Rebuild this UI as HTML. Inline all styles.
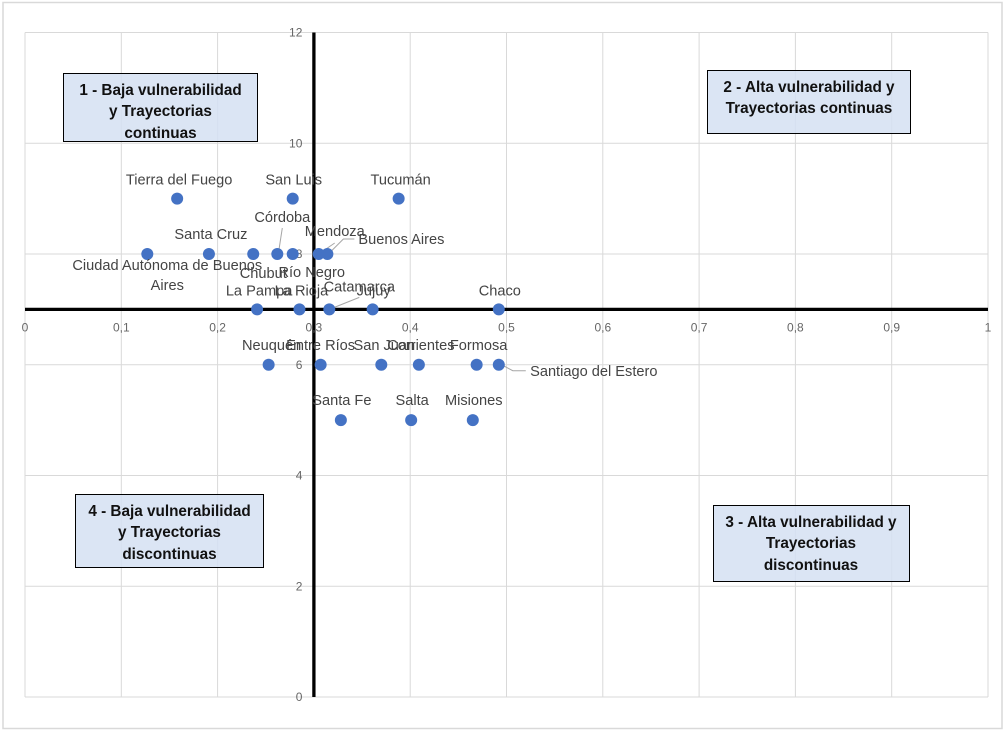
<!DOCTYPE html>
<html lang="es">
<head>
<meta charset="utf-8">
<title>Vulnerabilidad y trayectorias por provincia</title>
<style>
html,body{margin:0;padding:0;background:#fff;width:1006px;height:732px;overflow:hidden}
svg{display:block}
text{font-family:"Liberation Sans",sans-serif}
.tick{font-size:12px;fill:#666}
.lab{font-size:14.6px;fill:#444}
.box-text{font-size:15.3px;font-weight:bold;fill:#111;text-anchor:middle}
</style>
</head>
<body>
<svg id="chart" width="1006" height="732" viewBox="0 0 1006 732" xmlns="http://www.w3.org/2000/svg">
  <rect x="3" y="2.5" width="999" height="726" fill="#fff" stroke="#d9d9d9" stroke-width="1.5"/>
  <g id="grid"></g>
  <g id="leaders"></g>
  <g id="axes"></g>
  <g id="points"></g>
  <g id="labels"></g>

  <g>
    <rect x="63.5" y="73.5" width="194" height="68" fill="#d5e0f2" fill-opacity="0.85" stroke="#000"/>
    <text class="box-text" x="160.5" y="95">1 - Baja vulnerabilidad</text>
    <text class="box-text" x="160.5" y="116">y Trayectorias</text>
    <text class="box-text" x="160.5" y="138">continuas</text>
  </g>
  <g>
    <rect x="707.5" y="70.5" width="203" height="63" fill="#d5e0f2" fill-opacity="0.85" stroke="#000"/>
    <text class="box-text" x="809" y="92">2 - Alta vulnerabilidad y</text>
    <text class="box-text" x="809" y="113">Trayectorias continuas</text>
  </g>
  <g>
    <rect x="713.5" y="505.5" width="196" height="76" fill="#d5e0f2" fill-opacity="0.85" stroke="#000"/>
    <text class="box-text" x="811" y="527">3 - Alta vulnerabilidad y</text>
    <text class="box-text" x="811" y="548">Trayectorias</text>
    <text class="box-text" x="811" y="570">discontinuas</text>
  </g>
  <g>
    <rect x="75.5" y="494.5" width="188" height="73" fill="#d5e0f2" fill-opacity="0.85" stroke="#000"/>
    <text class="box-text" x="169.5" y="516">4 - Baja vulnerabilidad</text>
    <text class="box-text" x="169.5" y="537">y Trayectorias</text>
    <text class="box-text" x="169.5" y="559">discontinuas</text>
  </g>
</svg>
<script>
const provinces = ["Tierra del Fuego","San Luis","Tucumán","Ciudad Autónoma de Buenos Aires","Santa Cruz","Chubut","Córdoba","Río Negro","Mendoza","Buenos Aires","La Pampa","La Rioja","Catamarca","Jujuy","Chaco","Neuquén","Entre Ríos","San Juan","Corrientes","Formosa","Santiago del Estero","Santa Fe","Salta","Misiones"];
const vulnerability = [0.158,0.278,0.388,0.127,0.191,0.237,0.262,0.278,0.305,0.314,0.241,0.285,0.316,0.361,0.492,0.253,0.307,0.370,0.409,0.469,0.492,0.328,0.401,0.465];
const trajectories = [9,9,9,8,8,8,8,8,8,8,7,7,7,7,7,6,6,6,6,6,6,5,5,5];
const xTickLabels = ["0","0,1","0,2","0,3","0,4","0,5","0,6","0,7","0,8","0,9","1"];
const xTickValues = [0,0.1,0.2,0.3,0.4,0.5,0.6,0.7,0.8,0.9,1];
const yTickLabels = ["0","2","4","6","8","10","12"];
const yTickValues = [0,2,4,6,8,10,12];
const xCross = 0.3;
const yCross = 7;

const NS = "http://www.w3.org/2000/svg";
const plot = {left:25, right:988, top:32.5, bottom:697};
function xScale(v){ return plot.left + v * (plot.right - plot.left); }
function yScale(v){ return plot.bottom - (v / 12) * (plot.bottom - plot.top); }

/* label placement relative to each mark: [dx, dy of baseline] */
const labelOffset = {
  "Tierra del Fuego":[2,-14],"San Luis":[1,-14],"Tucumán":[2,-14],
  "Santa Cruz":[2,-15],"Chubut":[10,24],"Córdoba":[5,-32],"Río Negro":[19,23],
  "Mendoza":[16,-18],"Buenos Aires":[74,-10],"La Pampa":[2,-14],"La Rioja":[2,-14],
  "Catamarca":[30,-18],"Jujuy":[1,-14],"Chaco":[1,-14],"Neuquén":[3,-15],
  "Entre Ríos":[0,-15],"San Juan":[3,-15],"Corrientes":[2,-15],"Formosa":[2,-15],
  "Santiago del Estero":[95,11],"Santa Fe":[1,-15],"Salta":[1,-15],"Misiones":[1,-15]
};
const leaderOffset = {
  "Córdoba":[[1,0],[5,-26]],
  "Mendoza":[[0,0],[16,-11]],
  "Buenos Aires":[[1,0],[16,-15],[27,-15]],
  "Catamarca":[[0,0],[30,-12]],
  "Santiago del Estero":[[1,-1],[14,6],[27,6]]
};

const grid = document.getElementById("grid");
xTickValues.forEach(function(v){
  const l = document.createElementNS(NS,"line");
  
  
  l.setAttribute("x1", xScale(v)); l.setAttribute("x2", xScale(v));
  l.setAttribute("y1", plot.top); l.setAttribute("y2", plot.bottom);
  l.setAttribute("stroke", "#d9d9d9"); l.setAttribute("stroke-width", "1");
  grid.appendChild(l);
});
yTickValues.forEach(function(v){
  const l = document.createElementNS(NS,"line");
  
  
  l.setAttribute("x1", plot.left); l.setAttribute("x2", plot.right);
  l.setAttribute("y1", yScale(v)); l.setAttribute("y2", yScale(v));
  l.setAttribute("stroke", "#d9d9d9"); l.setAttribute("stroke-width", "1");
  grid.appendChild(l);
});

const axes = document.getElementById("axes");
const xAxisLine = document.createElementNS(NS,"line");


xAxisLine.setAttribute("x1", plot.left); xAxisLine.setAttribute("x2", plot.right);
xAxisLine.setAttribute("y1", yScale(yCross)); xAxisLine.setAttribute("y2", yScale(yCross));
xAxisLine.setAttribute("stroke", "#000"); xAxisLine.setAttribute("stroke-width", "3.3");
axes.appendChild(xAxisLine);
const yAxisLine = document.createElementNS(NS,"line");


yAxisLine.setAttribute("x1", xScale(xCross)); yAxisLine.setAttribute("x2", xScale(xCross));
yAxisLine.setAttribute("y1", plot.top); yAxisLine.setAttribute("y2", plot.bottom);
yAxisLine.setAttribute("stroke", "#000"); yAxisLine.setAttribute("stroke-width", "3.3");
axes.appendChild(yAxisLine);

xTickValues.forEach(function(v,i){
  const t = document.createElementNS(NS,"text");
  
  
  t.setAttribute("class","tick");
  t.setAttribute("x", xScale(v)); t.setAttribute("y", yScale(yCross) + 22);
  t.setAttribute("text-anchor","middle");
  t.textContent = xTickLabels[i];
  axes.appendChild(t);
});
yTickValues.forEach(function(v,i){
  const t = document.createElementNS(NS,"text");
  
  
  t.setAttribute("class","tick");
  t.setAttribute("x", xScale(xCross) - 11.5); t.setAttribute("y", yScale(v) + 4);
  t.setAttribute("text-anchor","end");
  t.textContent = yTickLabels[i];
  axes.appendChild(t);
});

const leaders = document.getElementById("leaders");
const points = document.getElementById("points");
const labels = document.getElementById("labels");
provinces.forEach(function(name,i){
  const px = xScale(vulnerability[i]);
  const py = yScale(trajectories[i]);

  const c = document.createElementNS(NS,"circle");
  
  
  c.setAttribute("cx", px); c.setAttribute("cy", py); c.setAttribute("r", "6");
  c.setAttribute("fill", "#4472c4");
  points.appendChild(c);

  if (leaderOffset[name]) {
    const pl = document.createElementNS(NS,"polyline");
    
    
    pl.setAttribute("points", leaderOffset[name].map(function(o){ return (px+o[0]) + "," + (py+o[1]); }).join(" "));
    pl.setAttribute("fill", "none"); pl.setAttribute("stroke", "#a6a6a6"); pl.setAttribute("stroke-width", "1");
    leaders.appendChild(pl);
  }

  if (name === "Ciudad Autónoma de Buenos Aires") {
    const a = document.createElementNS(NS,"text");
    
    
    a.setAttribute("class","lab");
    a.setAttribute("text-anchor","middle");
    a.setAttribute("x", px + 20); a.setAttribute("y", py + 16);
    a.textContent = "Ciudad Autónoma de Buenos";
    labels.appendChild(a);
    const b = document.createElementNS(NS,"text");
    
    
    b.setAttribute("class","lab");
    b.setAttribute("text-anchor","middle");
    b.setAttribute("x", px + 20); b.setAttribute("y", py + 36);
    b.textContent = "Aires";
    labels.appendChild(b);
  } else {
    const o = labelOffset[name] || [0,-15];
    const t = document.createElementNS(NS,"text");
    
    
    t.setAttribute("class","lab");
    t.setAttribute("text-anchor","middle");
    t.setAttribute("x", px + o[0]); t.setAttribute("y", py + o[1]);
    t.textContent = name;
    labels.appendChild(t);
  }
});
</script>
</body>
</html>
